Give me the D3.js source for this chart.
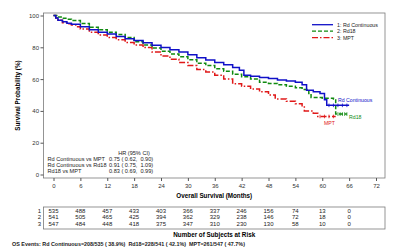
<!DOCTYPE html>
<html>
<head>
<meta charset="utf-8">
<script src="https://cdn.jsdelivr.net/npm/d3@7"></script>
<style>
	body { margin: 0; background: #fff; }
	text { font-family: "Liberation Sans", Arial, sans-serif; }
</style>
</head>
<body>
<div id="chart-area"></div>
<script>
// Kaplan-Meier estimates: [month, survival %]
var rdContinuous = [[0,100],[0.5,98.5],[1,97],[2,96],[3,95.2],[4,94.5],[6,93],[8,91],[10,89.5],[12,88.3],
	[14,86.8],[16,85.3],[18,84.2],[20,82.8],[22,81.3],[24,79.8],[26,78.5],[28,77],[30,75.3],[32,73.5],
	[34,72],[36,70.5],[38,69],[40,67.3],[41.5,65.5],[42.5,62.5],[44,61.8],[46,61],[48,60.3],[50,59.5],
	[52,58.8],[54,58],[55.5,56.5],[56.5,53],[58,52],[59.5,51],[60.5,47],[61,43.5],[66,43.5]];

var rd18 = [[0,100],[1,99],[2,98.2],[3,97.6],[4,96.8],[6,95],[8,92.6],[10,91],[12,89.5],[14,88],
	[16,86.2],[18,83.5],[20,81.5],[22,79.5],[24,77.5],[26,75.8],[28,74],[30,72.2],[32,70],[34,68.5],
	[36,66.5],[38,65],[40,63],[42,61.5],[44,60],[46,58],[48,57.3],[50,56.5],[52,55.5],[54,54.5],
	[55.5,53.5],[57,51],[57.5,48.5],[60,48],[62.5,47.5],[63,38],[65.5,38]];

var mpt = [[0,100],[0.5,98.5],[1,97],[2,95.5],[3,94.8],[4,94],[5,93],[6,91.5],[8,89.5],[10,87.8],
	[12,86.2],[14,84.8],[16,83],[18,81.5],[20,79.8],[22,77],[24,74.5],[26,72.5],[28,70.5],[30,68.5],
	[32,66],[34,64.5],[36,62.5],[38,60],[40,57],[42,55.5],[44,53.8],[46,52],[48,50],[49.5,47.5],
	[52,46],[54,44.5],[55.5,42.5],[56,40],[58,38.5],[59,36.5],[63,36.5]];

// Censor marks in the tail (months)
var rdContCensor = [61.5, 62.5, 63.5, 64.5, 65.5];
var rd18Censor = [63.5, 64, 64.5, 65, 65.5];
var mptCensor = [59.5, 60.5, 61.5, 62.5];

// Axis ticks
var monthTicks = [0, 6, 12, 18, 24, 30, 36, 42, 48, 54, 60, 66, 72];
var survTicks = [0, 20, 40, 60, 80, 100];

// Number at risk
var riskMonths = [0, 6, 12, 18, 24, 30, 36, 42, 48, 54, 60, 66];
var riskRdCont = [535, 488, 457, 433, 403, 366, 337, 246, 156, 74, 13, 0];
var riskRd18 = [541, 505, 465, 425, 394, 362, 329, 238, 146, 72, 18, 0];
var riskMpt = [547, 484, 448, 418, 375, 347, 310, 230, 130, 58, 10, 0];

// Hazard ratios
var hrNames = ["Rd Continuous vs MPT", "Rd Continuous vs Rd18", "Rd18 vs MPT"];
var hrValues = ["0.75 ( 0.62,  0.90)", "0.91 ( 0.75,  1.09)", "0.83 ( 0.69,  0.99)"];

var legendNames = ["1: Rd Continuous", "2: Rd18", "3: MPT"];
var endNames = ["Rd Continuous", "Rd18", "MPT"];

// Colours / dashes
var colors = ["#1010c8", "#108a10", "#e01818"];
var dashes = [null, "4,2", "6,2,1.5,2"];

var canvasWidth = 400;
var canvasHeight = 250;

// Frame of the plot
var frame = {left: 43.5, right: 385, top: 13, bottom: 178};

var svg = d3.select("#chart-area")
	.append("svg")
	.attr("width", canvasWidth)
	.attr("height", canvasHeight);

// Scales
var x = d3.scaleLinear()
	.domain([0, 72])
	.range([53.5, 376]);

var y = d3.scaleLinear()
	.domain([0, 100])
	.range([174.5, 15.5]);

// Frame
svg.append("rect")
	.attr("x", frame.left)
	.attr("y", frame.top)
	.attr("width", frame.right - frame.left)
	.attr("height", frame.bottom - frame.top)
	.attr("fill", "none")
	.attr("stroke", "#7a7a7a")
	.attr("stroke-width", 0.8);

// Y axis
var yAxis = svg.append("g")
	.attr("transform", "translate(" + frame.left + ",0)")
	.call(d3.axisLeft(y).tickValues(survTicks).tickSize(3).tickPadding(1.5));
yAxis.select(".domain").remove();
yAxis.selectAll("line").attr("stroke", "#555");
yAxis.selectAll("text").attr("font-size", "6px").attr("fill", "#333");

// X axis
var xAxis = svg.append("g")
	.attr("transform", "translate(0," + frame.bottom + ")")
	.call(d3.axisBottom(x).tickValues(monthTicks).tickSize(3).tickPadding(3));
xAxis.select(".domain").remove();
xAxis.selectAll("line").attr("stroke", "#555");
xAxis.selectAll("text").attr("font-size", "6px").attr("fill", "#333");

// Axis titles
svg.append("text")
	.attr("transform", "translate(20," + ((frame.top + frame.bottom) / 2) + ") rotate(-90)")
	.attr("text-anchor", "middle")
	.attr("font-size", "6.3px")
	.attr("font-weight", "bold")
	.text("Survival Probability (%)");

svg.append("text")
	.attr("x", (frame.left + frame.right) / 2)
	.attr("y", 198)
	.attr("text-anchor", "middle")
	.attr("font-size", "6.3px")
	.attr("font-weight", "bold")
	.text("Overall Survival (Months)");

// Curves
var line = d3.line()
	.x(function(d){ return x(d[0]); })
	.y(function(d){ return y(d[1]); })
	.curve(d3.curveStepAfter);

var series = [rdContinuous, rd18, mpt];
var censors = [rdContCensor, rd18Censor, mptCensor];

function survAt(s, t) {
	var v = s[0][1];
	for (var i = 0; i < s.length; i++) {
		if (s[i][0] <= t) v = s[i][1];
	}
	return v;
}

for (var k = 2; k >= 0; k--) {
	svg.append("path")
		.datum(series[k])
		.attr("d", line)
		.attr("fill", "none")
		.attr("stroke", colors[k])
		.attr("stroke-width", 1.5)
		.attr("stroke-dasharray", dashes[k]);

	svg.selectAll(".cens" + k)
		.data(censors[k])
		.enter()
		.append("line")
		.attr("class", "cens" + k)
		.attr("x1", function(d){ return x(d); })
		.attr("x2", function(d){ return x(d); })
		.attr("y1", function(d){ return y(survAt(series[k], d)) - 1.8; })
		.attr("y2", function(d){ return y(survAt(series[k], d)) + 1.8; })
		.attr("stroke", colors[k])
		.attr("stroke-width", 0.8);
}

// End-of-curve labels
var endPos = [[338, 102.3], [349, 119], [324, 125]];
for (var k = 0; k < 3; k++) {
	svg.append("text")
		.attr("x", endPos[k][0])
		.attr("y", endPos[k][1])
		.attr("font-size", "5.2px")
		.attr("fill", colors[k])
		.text(endNames[k]);
}

// Legend
var legend = svg.append("g")
	.attr("transform", "translate(312,24.7)");

legendNames.forEach(function(name, i){
	var row = legend.append("g")
		.attr("transform", "translate(0," + (i * 6.5) + ")");
	row.append("line")
		.attr("x1", 0)
		.attr("x2", 21)
		.attr("stroke", colors[i])
		.attr("stroke-width", 1.3)
		.attr("stroke-dasharray", dashes[i]);
	row.append("text")
		.attr("x", 25)
		.attr("y", 1.9)
		.attr("font-size", "5.3px")
		.attr("fill", "#222")
		.text(name);
});

// Hazard ratio block
svg.append("text")
	.attr("x", 134)
	.attr("y", 154.6)
	.attr("text-anchor", "middle")
	.attr("font-size", "5.6px")
	.attr("fill", "#222")
	.text("HR (95% CI)");

hrNames.forEach(function(name, i){
	svg.append("text")
		.attr("x", 47.5)
		.attr("y", 160.6 + i * 6.4)
		.attr("font-size", "5.6px")
		.attr("fill", "#222")
		.text(name);
	svg.append("text")
		.attr("x", 109)
		.attr("y", 160.6 + i * 6.4)
		.attr("font-size", "5.6px")
		.attr("fill", "#222")
		.style("white-space", "pre")
		.text(hrValues[i]);
});

// Number at risk table
svg.append("rect")
	.attr("x", frame.left)
	.attr("y", 207)
	.attr("width", frame.right - frame.left)
	.attr("height", 22)
	.attr("fill", "none")
	.attr("stroke", "#7a7a7a")
	.attr("stroke-width", 0.8);

var riskRows = [riskRdCont, riskRd18, riskMpt];
riskRows.forEach(function(row, i){
	var yy = 212.8 + i * 6.6;
	svg.append("text")
		.attr("x", 41)
		.attr("y", yy)
		.attr("text-anchor", "end")
		.attr("font-size", "6px")
		.attr("fill", "#222")
		.text(i + 1);
	svg.selectAll(".risk" + i)
		.data(row)
		.enter()
		.append("text")
		.attr("class", "risk" + i)
		.attr("x", function(d, j){ return x(riskMonths[j]); })
		.attr("y", yy)
		.attr("text-anchor", "middle")
		.attr("font-size", "6px")
		.attr("fill", "#222")
		.text(function(d){ return d; });
});

svg.append("text")
	.attr("x", (frame.left + frame.right) / 2)
	.attr("y", 236.5)
	.attr("text-anchor", "middle")
	.attr("font-size", "6.3px")
	.attr("font-weight", "bold")
	.text("Number of Subjects at Risk");

// OS events footer
svg.append("text")
	.attr("x", 12)
	.attr("y", 246)
	.attr("font-size", "5.4px")
	.attr("font-weight", "bold")
	.attr("fill", "#222")
	.style("white-space", "pre")
	.text("OS Events: Rd Continuous=208/535 ( 38.9%)  Rd18=228/541 ( 42.1%)  MPT=261/547 ( 47.7%)");
</script>
</body>
</html>
